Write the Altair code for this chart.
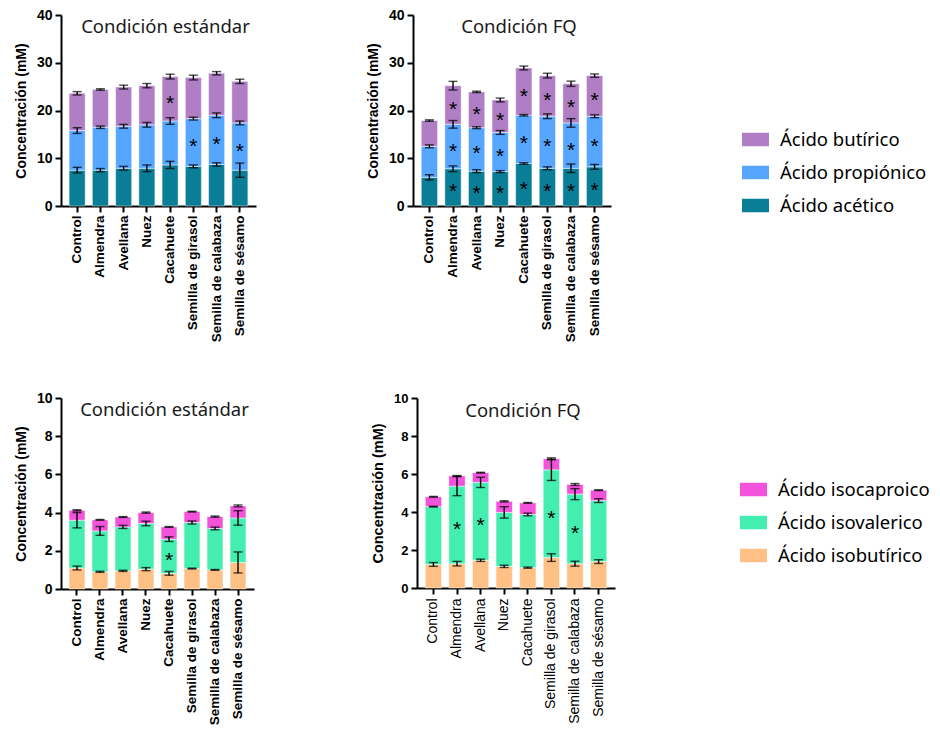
import altair as alt
import pandas as pd

categories = ["Control", "Almendra", "Avellana", "Nuez", "Cacahuete",
              "Semilla de girasol", "Semilla de calabaza", "Semilla de sésamo"]

# ---- short-chain fatty acids (stack order bottom -> top)
scfa_names = ["Ácido acético", "Ácido propiónico", "Ácido butírico"]
scfa_legend = ["Ácido butírico", "Ácido propiónico", "Ácido acético"]
scfa_colors = ["#AF7EC4", "#56A6FF", "#0A7E96"]

std_acetic = [7.5, 7.5, 7.9, 7.9, 8.6, 8.3, 8.7, 7.5]
std_propionic = [8.3, 9.0, 8.8, 9.1, 9.2, 10.0, 10.3, 9.9]
std_butyric = [7.8, 7.9, 8.2, 8.2, 9.3, 8.6, 8.8, 8.7]
std_acetic_sd = [0.6, 0.35, 0.4, 0.7, 0.75, 0.3, 0.35, 1.5]
std_propionic_sd = [0.6, 0.25, 0.4, 0.5, 0.7, 0.3, 0.5, 0.4]
std_butyric_sd = [0.35, 0.15, 0.4, 0.45, 0.5, 0.5, 0.35, 0.45]
std_acetic_sig = [0, 0, 0, 0, 0, 0, 0, 0]
std_propionic_sig = [0, 0, 0, 0, 0, 1, 1, 1]
std_butyric_sig = [0, 0, 0, 0, 1, 0, 0, 0]

fq_acetic = [6.0, 7.8, 7.3, 7.2, 8.9, 7.9, 7.9, 8.2]
fq_propionic = [6.5, 9.3, 9.1, 8.2, 10.1, 10.9, 9.5, 10.6]
fq_butyric = [5.4, 8.1, 7.5, 6.8, 9.9, 8.5, 8.2, 8.5]
fq_acetic_sd = [0.55, 0.6, 0.3, 0.2, 0.15, 0.3, 0.9, 0.5]
fq_propionic_sd = [0.3, 0.8, 0.2, 0.4, 0.15, 0.5, 0.9, 0.3]
fq_butyric_sd = [0.15, 0.9, 0.15, 0.4, 0.4, 0.5, 0.55, 0.35]
fq_acetic_sig = [0, 1, 1, 1, 1, 1, 1, 1]
fq_propionic_sig = [0, 1, 1, 1, 1, 1, 1, 1]
fq_butyric_sig = [0, 1, 1, 1, 1, 1, 1, 1]

# ---- branched-chain fatty acids (stack order bottom -> top)
bcfa_names = ["Ácido isobutírico", "Ácido isovalerico", "Ácido isocaproico"]
bcfa_legend = ["Ácido isocaproico", "Ácido isovalerico", "Ácido isobutírico"]
bcfa_colors = ["#F352DA", "#44EEB1", "#FFC085"]

std_isobut = [1.10, 0.90, 0.95, 1.04, 0.82, 1.07, 1.00, 1.39]
std_isoval = [2.50, 2.14, 2.30, 2.39, 1.79, 2.41, 2.17, 2.33]
std_isocap = [0.52, 0.58, 0.52, 0.57, 0.64, 0.57, 0.62, 0.63]
std_isobut_sd = [0.1, 0.03, 0.03, 0.08, 0.1, 0.02, 0.02, 0.55]
std_isoval_sd = [0.4, 0.23, 0.08, 0.12, 0.12, 0.08, 0.07, 0.38]
std_isocap_sd = [0.03, 0.02, 0.02, 0.03, 0.02, 0.02, 0.03, 0.05]
std_isobut_sig = [0, 0, 0, 0, 0, 0, 0, 0]
std_isoval_sig = [0, 0, 0, 0, 1, 0, 0, 0]
std_isocap_sig = [0, 0, 0, 0, 0, 0, 0, 0]

fq_isobut = [1.24, 1.28, 1.46, 1.14, 1.07, 1.60, 1.28, 1.39]
fq_isoval = [3.04, 4.08, 4.10, 2.84, 2.80, 4.62, 3.66, 3.21]
fq_isocap = [0.52, 0.54, 0.51, 0.58, 0.61, 0.58, 0.51, 0.55]
fq_isobut_sd = [0.1, 0.12, 0.06, 0.06, 0.03, 0.2, 0.13, 0.1]
fq_isoval_sd = [0.02, 0.5, 0.27, 0.3, 0.07, 0.56, 0.29, 0.1]
fq_isocap_sd = [0.02, 0.02, 0.02, 0.03, 0.02, 0.05, 0.05, 0.02]
fq_isobut_sig = [0, 0, 0, 0, 0, 0, 0, 0]
fq_isoval_sig = [0, 1, 1, 0, 0, 1, 1, 0]
fq_isocap_sig = [0, 0, 0, 0, 0, 0, 0, 0]

y_title = "Concentración (mM)"


def build(names, vals, sds, sigs):
    rows = []
    for i, cat in enumerate(categories):
        base = 0.0
        for name, v, s, g in zip(names, vals, sds, sigs):
            top = base + v[i]
            rows.append(dict(cat=cat, acid=name, y0=base, y1=top,
                             lo=top - s[i], hi=top + s[i],
                             mid=base + v[i] / 2, sig=bool(g[i])))
            base = top
    return pd.DataFrame(rows)


def panel(df, legend_order, colors, title, ymax, ticks, w, h,
          xsize, xweight, xpad, ysize, ytsize, legend):
    base = alt.Chart(df)
    xax = alt.Axis(labelAngle=-90, labelFont="Liberation Sans", labelFontSize=xsize,
                   labelFontWeight=xweight, labelColor="black",
                   domainColor="black", domainWidth=2, tickColor="black",
                   tickWidth=2, tickSize=6, labelPadding=xpad, title=None)
    yax = alt.Axis(values=ticks, grid=False, title=y_title,
                   titleFont="Liberation Sans", titleFontSize=ytsize,
                   titleFontWeight="bold", titleColor="black", titlePadding=8,
                   labelFont="Liberation Sans", labelFontSize=ysize,
                   labelFontWeight="bold", labelColor="black",
                   domainColor="black", domainWidth=2, tickColor="black",
                   tickWidth=2, tickSize=6, labelPadding=3)
    xs = alt.Scale(paddingInner=0.31, paddingOuter=0.35)
    x = alt.X("cat:N", sort=categories, scale=xs, axis=xax)
    ys = alt.Scale(domain=[0, ymax], nice=False)
    bars = base.mark_bar(stroke="white", strokeWidth=1, strokeOpacity=0.45).encode(
        x=x,
        y=alt.Y("y0:Q", scale=ys, axis=yax),
        y2="y1:Q",
        color=alt.Color("acid:N", scale=alt.Scale(domain=legend_order, range=colors),
                        legend=legend),
    )
    rule = base.mark_rule(color="black", strokeWidth=1.4).encode(
        x=x, y=alt.Y("lo:Q", scale=ys, axis=yax), y2="hi:Q")
    cap_lo = base.mark_tick(color="black", thickness=1.4, size=9).encode(
        x=x, y=alt.Y("lo:Q", scale=ys, axis=yax))
    cap_hi = base.mark_tick(color="black", thickness=1.4, size=9).encode(
        x=x, y=alt.Y("hi:Q", scale=ys, axis=yax))
    stars = base.transform_filter("datum.sig").mark_text(
        text="*", fontSize=21, font="Liberation Sans", color="black",
        baseline="middle", dy=5).encode(
        x=x, y=alt.Y("mid:Q", scale=ys, axis=yax))
    return alt.layer(bars, rule, cap_lo, cap_hi, stars).properties(
        width=w, height=h,
        title=alt.TitleParams(title, offset=0, dy=28, dx=7, frame="group",
                              font="Noto Sans", fontSize=18.5, fontWeight="normal",
                              color="#1a1a1a", anchor="middle"),
    )


def leg(x, y):
    return alt.Legend(title=None, orient="none", legendX=x, legendY=y,
                      symbolType="M-1,-0.5H1V0.5H-1Z", symbolSize=729,
                      symbolStrokeWidth=0, symbolOpacity=1,
                      labelFont="Noto Sans", labelFontSize=18.5, labelColor="black",
                      labelOffset=11, rowPadding=10, padding=0)


df_tl = build(scfa_names, [std_acetic, std_propionic, std_butyric],
              [std_acetic_sd, std_propionic_sd, std_butyric_sd],
              [std_acetic_sig, std_propionic_sig, std_butyric_sig])
df_tr = build(scfa_names, [fq_acetic, fq_propionic, fq_butyric],
              [fq_acetic_sd, fq_propionic_sd, fq_butyric_sd],
              [fq_acetic_sig, fq_propionic_sig, fq_butyric_sig])
df_bl = build(bcfa_names, [std_isobut, std_isoval, std_isocap],
              [std_isobut_sd, std_isoval_sd, std_isocap_sd],
              [std_isobut_sig, std_isoval_sig, std_isocap_sig])
df_br = build(bcfa_names, [fq_isobut, fq_isoval, fq_isocap],
              [fq_isobut_sd, fq_isoval_sd, fq_isocap_sd],
              [fq_isobut_sig, fq_isoval_sig, fq_isocap_sig])

tl = panel(df_tl, scfa_legend, scfa_colors, "Condición estándar", 40, [0, 10, 20, 30, 40],
           195, 191, 13.5, "bold", 3, 14, 14, None)
tr = panel(df_tr, scfa_legend, scfa_colors, "Condición FQ", 40, [0, 10, 20, 30, 40],
           198, 191, 13.5, "bold", 3, 14, 14, leg(329, 111))
bl = panel(df_bl, bcfa_legend, bcfa_colors, "Condición estándar", 10, [0, 2, 4, 6, 8, 10],
           193, 191, 13.5, "bold", 3, 14, 14, None)
br = panel(df_br, bcfa_legend, bcfa_colors, "Condición FQ", 10, [0, 2, 4, 6, 8, 10],
           198, 190, 14, "normal", 4, 13, 14.5, leg(323, 78))

top = alt.hconcat(tl, tr, spacing=110).resolve_scale(color="independent")
bottom = alt.hconcat(bl, br, spacing=116).resolve_scale(color="independent")

chart = alt.vconcat(top, bottom, spacing=49).resolve_scale(color="independent").properties(
    padding={"left": 6, "top": 0, "right": 0, "bottom": 0}
).configure(background="white").configure_view(stroke=None)

chart.save("out.html", embed_options={"renderer": "svg", "actions": False})
